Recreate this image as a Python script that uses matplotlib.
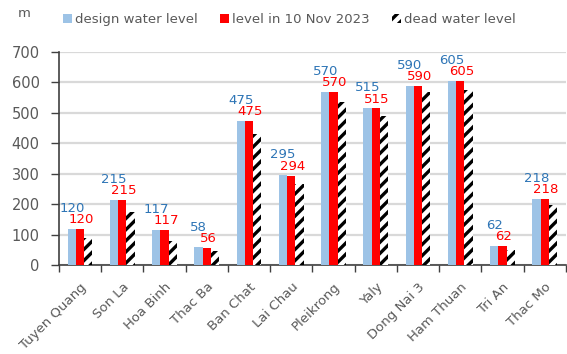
import matplotlib
matplotlib.use("Agg")
import matplotlib.pyplot as plt
import numpy as np

# Reservoir levels (m)
reservoirs = ["Tuyen Quang", "Son La", "Hoa Binh", "Thac Ba", "Ban Chat", "Lai Chau",
              "Pleikrong", "Yaly", "Dong Nai 3", "Ham Thuan", "Tri An", "Thac Mo"]
design_level = [120, 215, 117, 58, 475, 295, 570, 515, 590, 605, 62, 218]
level_nov_2023 = [120, 215, 117, 56, 475, 294, 570, 515, 590, 605, 62, 218]
dead_level = [90, 175, 80, 46, 431, 265, 537, 490, 570, 575, 50, 198]

series_names = ["design water level", "level in 10 Nov 2023", "dead water level"]
y_ticks = [0, 100, 200, 300, 400, 500, 600, 700]

LIGHT_BLUE = "#9DC3E6"
RED = "#FF0000"
LABEL_BLUE = "#2E75B6"
GREY_TEXT = "#595959"

plt.rcParams["font.family"] = ["DejaVu Sans"]
plt.rcParams["hatch.linewidth"] = 2.4

fig = plt.figure(figsize=(5.67, 3.54), dpi=100)
ax = fig.add_axes([0.104, 0.251, 0.894, 0.602])

x = np.arange(len(reservoirs))
w = 0.195

b1 = ax.bar(x - w, design_level, w, color=LIGHT_BLUE, label=series_names[0], zorder=3)
b2 = ax.bar(x, level_nov_2023, w, color=RED, label=series_names[1], zorder=3)
b3 = ax.bar(x + w, dead_level, w, color="white", edgecolor="black", linewidth=0,
            hatch="///", label=series_names[2], zorder=3)

for xi, v in zip(x, design_level):
    ax.annotate(str(v), (xi - w, v), xytext=(0, 10), textcoords="offset points",
                ha="center", va="bottom", color=LABEL_BLUE, fontsize=9.5)
for xi, v in zip(x, level_nov_2023):
    ax.annotate(str(v), (xi, v), xytext=(1, 2), textcoords="offset points",
                ha="center", va="bottom", color=RED, fontsize=9.5)

ax.set_xlim(-0.5, len(reservoirs) - 0.5)
ax.set_ylim(0, 700)
ax.set_yticks(y_ticks)
ax.set_xticks(x)
ax.set_xticklabels(reservoirs, rotation=45, ha="right", rotation_mode="anchor",
                   fontsize=9.5, color=GREY_TEXT)
ax.set_xticks(np.arange(len(reservoirs) + 1) - 0.5, minor=True)
ax.tick_params(axis="x", which="major", length=0, pad=11)
ax.tick_params(axis="x", which="minor", length=5, width=1, color="#404040")
ax.tick_params(axis="y", length=6, width=1, color="#404040", labelsize=10.5,
               labelcolor=GREY_TEXT, pad=8)

ax.grid(axis="y", color="#D9D9D9", linewidth=1.6, zorder=0)
ax.set_axisbelow(True)
for side in ["top", "right"]:
    ax.spines[side].set_visible(False)
for side in ["left", "bottom"]:
    ax.spines[side].set_color("#404040")
    ax.spines[side].set_linewidth(1.2)

fig.text(0.032, 0.962, "m", fontsize=9.5, color=GREY_TEXT, va="center")

leg = fig.legend(handles=[b1, b2, b3], loc="center", bbox_to_anchor=(0.51, 0.945),
                 ncol=3, frameon=False, fontsize=9.5, handlelength=0.7, handleheight=0.7,
                 handletextpad=0.2, columnspacing=1.7)
for t in leg.get_texts():
    t.set_color(GREY_TEXT)

fig.savefig("out.png", dpi=100)
